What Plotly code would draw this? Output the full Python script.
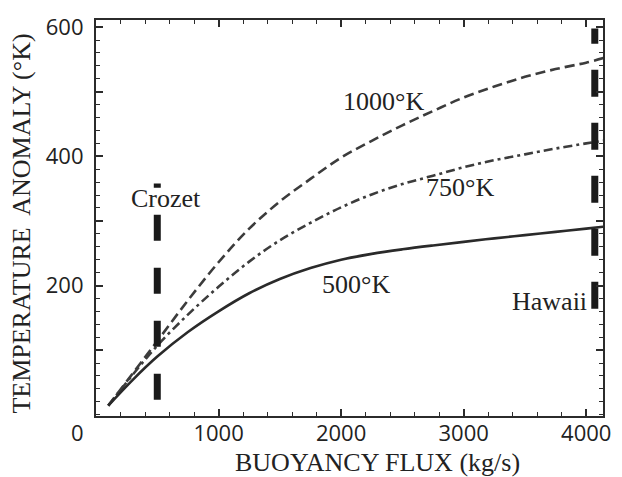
import plotly.graph_objects as go

# ---- data ----
flux = [100, 300, 500, 750, 1000, 1250, 1500, 1750, 2000, 2250, 2500, 2750,
        3000, 3250, 3500, 3750, 4000, 4140]
t500 = [14, 54, 90, 128, 160, 188, 210, 227, 240, 249, 256, 262,
        267.5, 273, 278, 283, 288, 291]
t750 = [14, 62, 107, 155, 198, 237, 270, 297, 321, 341, 357, 370,
        383, 394, 403, 412, 420, 424]
t1000 = [14, 64, 114, 177, 236, 288, 330, 365, 398, 424, 448, 470,
         491, 508, 523, 535, 545, 552]

crozet_x = [500, 500]
crozet_y = [23, 358]
hawaii_x = [4070, 4070]
hawaii_y = [164, 598]

curve_labels = [("1000°K", 2345, 485), ("750°K", 2972, 352), ("500°K", 2124, 202)]

xtick_vals = [1000, 2000, 3000, 4000]
xtick_text = ["1000", "2000", "3000", "4000"]
ytick_vals = [100, 200, 300, 400, 500, 600]
ytick_text = ["", "200", "", "400", "", "600"]

SERIF = "Liberation Serif, Times New Roman, serif"
SANS = "Open Sans, Liberation Sans, sans-serif"
DARK = "#2b2b2b"

fig = go.Figure()

fig.add_trace(go.Scatter(x=flux, y=t1000, mode="lines", line=dict(color="#3c3c3c", width=2.6, dash="10px,5px", shape="spline"), showlegend=False))
fig.add_trace(go.Scatter(x=flux, y=t750, mode="lines", line=dict(color="#3c3c3c", width=2.6, dash="9px,4px,3px,4px", shape="spline"), showlegend=False))
fig.add_trace(go.Scatter(x=flux, y=t500, mode="lines", line=dict(color="#2a2a2a", width=2.6, shape="spline"), showlegend=False))

fig.add_trace(go.Scatter(x=crozet_x, y=crozet_y, mode="lines", line=dict(color="#1a1a1a", width=7, dash="26px,27px"), showlegend=False))
fig.add_trace(go.Scatter(x=hawaii_x, y=hawaii_y, mode="lines", line=dict(color="#1a1a1a", width=7, dash="27px,26px"), showlegend=False))

annotations = []
for txt, x, y in curve_labels:
    annotations.append(dict(text=txt, x=x, y=y, xref="x", yref="y", showarrow=False,
                            xanchor="center", yanchor="middle", font=dict(family=SERIF, size=26, color="#222")))
annotations.append(dict(text="Crozet", x=570, y=335, xref="x", yref="y", showarrow=False,
                        xanchor="center", yanchor="middle", font=dict(family=SERIF, size=26, color="#222")))
annotations.append(dict(text="Hawaii", x=4024, y=176, xref="x", yref="y", showarrow=False,
                        xanchor="right", yanchor="middle", font=dict(family=SERIF, size=26, color="#222")))
annotations.append(dict(text="BUOYANCY FLUX (kg/s)", x=(382 - 96) / 515, y=(416 - 463) / 401,
                        xref="paper", yref="paper", showarrow=False, xanchor="center", yanchor="middle",
                        font=dict(family=SERIF, size=26, color="#222")))
annotations.append(dict(text="TEMPERATURE  ANOMALY (°K)", x=(20 - 96) / 515, y=(416 - 221) / 401,
                        xref="paper", yref="paper", showarrow=False, xanchor="center", yanchor="middle",
                        textangle=-90, font=dict(family=SERIF, size=26, color="#222")))
annotations.append(dict(text="0", x=(77 - 96) / 515, y=(416 - 432) / 401,
                        xref="paper", yref="paper", showarrow=False, xanchor="center", yanchor="middle",
                        font=dict(family=SANS, size=22, color="#222")))

axis_common = dict(showline=True, linecolor=DARK, linewidth=2.2, mirror="allticks",
                   ticks="inside", ticklen=7, tickwidth=1.6, tickcolor=DARK,
                   showgrid=False, zeroline=False, tickfont=dict(family=SANS, size=22, color="#222"))

fig.update_layout(
    width=622, height=477,
    margin=dict(l=96, r=11, t=15, b=61),
    paper_bgcolor="white", plot_bgcolor="white",
    xaxis=dict(range=[0, 4137], tickmode="array", tickvals=xtick_vals, ticktext=xtick_text,
               minor=dict(dtick=200, tick0=0, ticks="inside", ticklen=4, tickwidth=1.4, tickcolor=DARK),
               ticklabelstandoff=-4, **axis_common),
    yaxis=dict(range=[-2, 611], tickmode="array", tickvals=ytick_vals, ticktext=ytick_text,
               minor=dict(dtick=20, tick0=0, ticks="inside", ticklen=4, tickwidth=1.4, tickcolor=DARK),
               ticklabelstandoff=6, **axis_common),
    annotations=annotations,
)

fig.write_html("out.html")
